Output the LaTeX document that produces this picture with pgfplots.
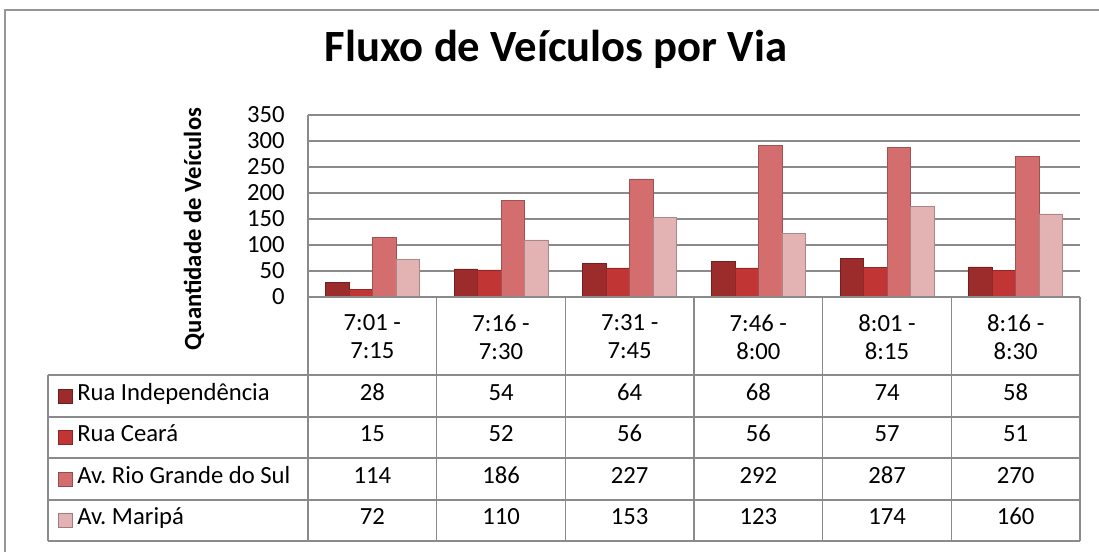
\documentclass[border=0pt]{standalone}
\usepackage{fontspec}
\setmainfont{Carlito}
\usepackage{pgfplots}
\usepackage{pgfplotstable}
\pgfplotsset{compat=1.18}
\frenchspacing
\definecolor{cRI}{HTML}{9C2B2B}
\definecolor{cRC}{HTML}{C23535}
\definecolor{cRG}{HTML}{D46E6E}
\definecolor{cMP}{HTML}{E3B3B3}
\definecolor{gridc}{HTML}{8A8A8A}
\definecolor{framec}{HTML}{969696}
\pgfplotstableread{
x ri rc rg mp
0 28 15 114 72
1 54 52 186 110
2 64 56 227 153
3 68 56 292 123
4 74 57 287 174
5 58 51 270 160
}\data
\newcommand\tf{\fontsize{18.5}{21}\selectfont}
\begin{document}
\begin{tikzpicture}
\useasboundingbox (-231pt,-190.5pt) rectangle (593.25pt,222.75pt);
\draw[framec, line width=2.2pt] (-227.25pt,-200pt) -- (-227.25pt,215.25pt) -- (600pt,215.25pt);
\node[font=\fontsize{33.5}{38}\selectfont\bfseries] at (186pt,186pt) {Fluxo de Veículos por Via};
\begin{axis}[
  scale only axis, width=579pt, height=136.5pt,
  xmin=-0.5, xmax=5.5, ymin=0, ymax=350,
  ytick={0,50,...,350},
  xtick={0,...,5},
  xticklabels={{7:01 -\\7:15},{7:16 -\\7:30},{7:31 -\\7:45},{7:46 -\\8:00},{8:01 -\\8:15},{8:16 -\\8:30}},
  xticklabel style={align=center, font=\tf, anchor=center, yshift=-30pt},
  yticklabel style={font=\tf, anchor=east, xshift=-14pt},
  /pgf/number format/assume math mode=true,
  ymajorgrids, grid style={gridc, line width=1.2pt},
  axis line style={draw=none}, major tick length=0pt,
  ylabel={Quantidade de Veículos},
  ylabel style={at={(axis description cs:-0.1477,0.3736)}, anchor=center, font=\tf\bfseries},
  clip=false,
]
\addplot[ybar, bar width=17.6pt, bar shift=-26.4pt, fill=cRI, draw=cRI!75!black] table[x=x,y=ri]{\data};
\addplot[ybar, bar width=17.6pt, bar shift=-8.8pt, fill=cRC, draw=cRC!75!black] table[x=x,y=rc]{\data};
\addplot[ybar, bar width=17.6pt, bar shift=8.8pt, fill=cRG, draw=cRG!75!black] table[x=x,y=rg]{\data};
\addplot[ybar, bar width=17.6pt, bar shift=26.4pt, fill=cMP, draw=cMP!75!black] table[x=x,y=mp]{\data};
\end{axis}
% data table grid
\begin{scope}[gridc, line width=1.2pt]
\draw (0,136.5pt) -- (0,-183pt);
\foreach \c in {1,...,6} \draw ({\c*96.5pt},0) -- ({\c*96.5pt},-183pt);
\draw (0,0) -- (579pt,0);
\foreach \y in {-58.5,-90,-120.75,-152.25,-183} \draw (-195pt,\y pt) -- (579pt,\y pt);
\draw (-195pt,-58.5pt) -- (-195pt,-183pt);
\end{scope}
% row labels with legend keys
\foreach \name/\col [count=\r from 0] in {Rua Independência/cRI, Rua Ceará/cRC, Av. Rio Grande do Sul/cRG, Av. Maripá/cMP} {
  \pgfmathsetmacro\yy{-74.25-\r*31.125}
  \fill[\col, draw=\col!70!black, line width=0.4pt] (-187.5pt,\yy pt-5.25pt) rectangle (-177pt,\yy pt+5.25pt);
  \node[font=\tf, anchor=west, inner sep=0pt, text height=0.75em, text depth=0.11em] at (-173.25pt,\yy pt) {\name};
}
% values
\foreach \c in {0,...,5} {
  \foreach \col [count=\r from 0] in {ri,rc,rg,mp} {
    \pgfplotstablegetelem{\c}{\col}\of\data
    \pgfmathsetmacro\yy{-74.25-\r*31.125}
    \node[font=\tf, inner sep=0pt, text height=0.75em, text depth=0.11em] at ({(\c+0.5)*96.5pt},\yy pt) {\pgfplotsretval};
  }
}
\end{tikzpicture}
\end{document}
